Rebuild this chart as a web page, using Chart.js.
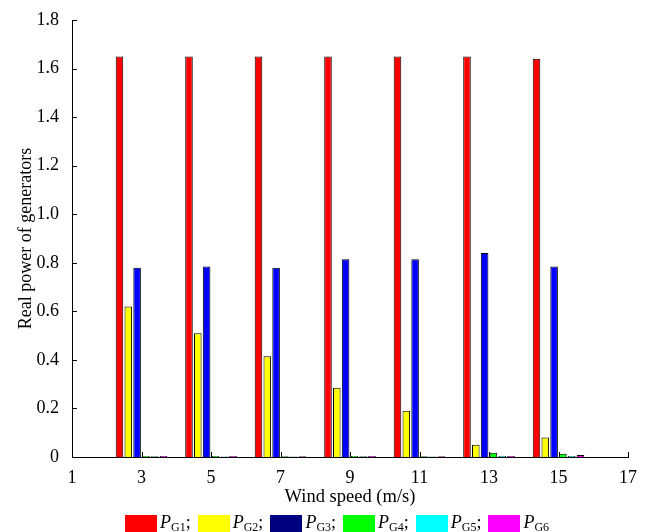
<!DOCTYPE html>
<html>
<head>
<meta charset="utf-8">
<script src="https://cdn.jsdelivr.net/npm/chart.js@4.4.1/dist/chart.umd.min.js"></script>
<style>
  html, body { margin: 0; padding: 0; background: #fff; }
  #wrap { position: relative; width: 646px; height: 532px; overflow: hidden; }
  #legend {
    position: absolute; left: 125px; top: 514px;
    display: flex; gap: 7px; align-items: flex-start;
    font-family: "Liberation Serif", "Times New Roman", serif; font-size: 18px; line-height: 17px;
  }
  #legend .item { display: flex; align-items: flex-start; }
  #legend .box { width: 30px; height: 15px; margin-right: 3px; margin-top: 1px; }
  #legend i { font-style: italic; }
  #legend sub { font-size: 12px; vertical-align: -3px; line-height: 0; }
</style>
</head>
<body>
<div id="wrap">
  <canvas id="graphic" width="646" height="532"></canvas>
  <div id="legend"></div>
</div>
<script>
// ==========================================================================
// DATA
// ==========================================================================
const windSpeeds = [3, 5, 7, 9, 11, 13, 15];
const xTicks = [1, 3, 5, 7, 9, 11, 13, 15, 17];
const yTicks = [0, 0.2, 0.4, 0.6, 0.8, 1.0, 1.2, 1.4, 1.6, 1.8];

const pG1 = [1.65, 1.65, 1.65, 1.65, 1.65, 1.65, 1.64];
const pG2 = [0.62, 0.51, 0.415, 0.285, 0.19, 0.05, 0.08];
const pG3 = [0.78, 0.785, 0.78, 0.815, 0.815, 0.84, 0.785];
const pG4 = [0.004, 0.004, 0.003, 0.004, 0.003, 0.018, 0.013];
const pG5 = [0.003, 0.002, 0.002, 0.003, 0.002, 0.004, 0.004];
const pG6 = [0.004, 0.004, 0.003, 0.004, 0.003, 0.004, 0.008];

const names = ['G1', 'G2', 'G3', 'G4', 'G5', 'G6'];
const barColors = ['#ff0000', '#ffff00', '#0000ff', '#00ff00', '#00ffff', '#ff00ff'];
const legendColors = ['#ff0000', '#ffff00', '#000080', '#00ff00', '#00ffff', '#ff00ff'];

// ==========================================================================
// LEGEND
// ==========================================================================
const legend = document.getElementById('legend');
names.forEach((n, i) => {
  const item = document.createElement('div');
  item.className = 'item';
  const sep = i < names.length - 1 ? ';' : '';
  item.innerHTML = `
    <div class="box" style="background:${legendColors[i]};border:1px solid ${legendColors[i]}"></div>
    <span><i>P</i><sub>${n}</sub>${sep}</span>
  `;
  legend.appendChild(item);
});

// ==========================================================================
// GRAPHICS
// ==========================================================================
const serif = '"Liberation Serif", "Times New Roman", serif';

// tick marks pointing into the plot
const innerTicks = {
  id: 'innerTicks',
  afterDraw(chart) {
    const {ctx, chartArea} = chart;
    const x = chart.scales.x, y = chart.scales.y;
    ctx.save();
    ctx.strokeStyle = '#000';
    ctx.lineWidth = 1;
    ctx.beginPath();
    y.ticks.forEach((t, i) => {
      const py = Math.round(y.getPixelForTick(i)) + 0.5;
      ctx.moveTo(chartArea.left, py);
      ctx.lineTo(chartArea.left + 5, py);
    });
    x.ticks.forEach((t, i) => {
      const px = Math.round(x.getPixelForTick(i)) + 0.5;
      ctx.moveTo(px, chartArea.bottom);
      ctx.lineTo(px, chartArea.bottom - 5);
    });
    ctx.stroke();
    ctx.restore();
  }
};

const series = [pG1, pG2, pG3, pG4, pG5, pG6];

let ctx = document.getElementById('graphic').getContext('2d');
let myChart = new Chart(ctx, {
  type: 'bar',
  data: {
    datasets: series.map((vals, i) => ({
      label: 'P' + names[i],
      data: windSpeeds.map((w, j) => ({x: w, y: vals[j]})),
      backgroundColor: barColors[i],
      borderColor: '#000',
      borderWidth: 1,
      borderSkipped: 'bottom',
      categoryPercentage: 0.76,
      barPercentage: 0.86,
    }))
  },
  plugins: [innerTicks],
  options: {
    responsive: false,
    animation: false,
    layout: { padding: { left: 0, right: 18, top: 20, bottom: 0 } },
    plugins: {
      legend: { display: false },
      tooltip: { enabled: false },
    },
    scales: {
      x: {
        type: 'linear',
        min: 1,
        max: 17,
        offset: false,
        afterBuildTicks: s => { s.ticks = xTicks.map(v => ({value: v})); },
        afterFit: s => { s.height = 75; },
        grid: { display: false, offset: false },
        border: { display: true, color: '#000', width: 1 },
        ticks: {
          color: '#000',
          padding: 2,
          maxRotation: 0,
          autoSkip: false,
          font: { family: serif, size: 18 },
          callback: v => String(v),
        },
        title: {
          display: true,
          text: 'Wind speed (m/s)',
          color: '#000',
          font: { family: serif, size: 18.5 },
          padding: { top: 0, bottom: 24 },
        }
      },
      y: {
        min: 0,
        max: 1.8,
        afterBuildTicks: s => { s.ticks = yTicks.map(v => ({value: v})); },
        afterFit: s => { s.width = 72; },
        grid: { display: false },
        border: { display: true, color: '#000', width: 1 },
        ticks: {
          color: '#000',
          padding: 5,
          font: { family: serif, size: 18 },
          callback: v => v === 0 ? '0' : v.toFixed(1),
        },
        title: {
          display: true,
          text: 'Real power of generators',
          color: '#000',
          font: { family: serif, size: 18 },
          padding: { top: 15, bottom: 0 },
        }
      }
    }
  }
});
</script>
</body>
</html>
